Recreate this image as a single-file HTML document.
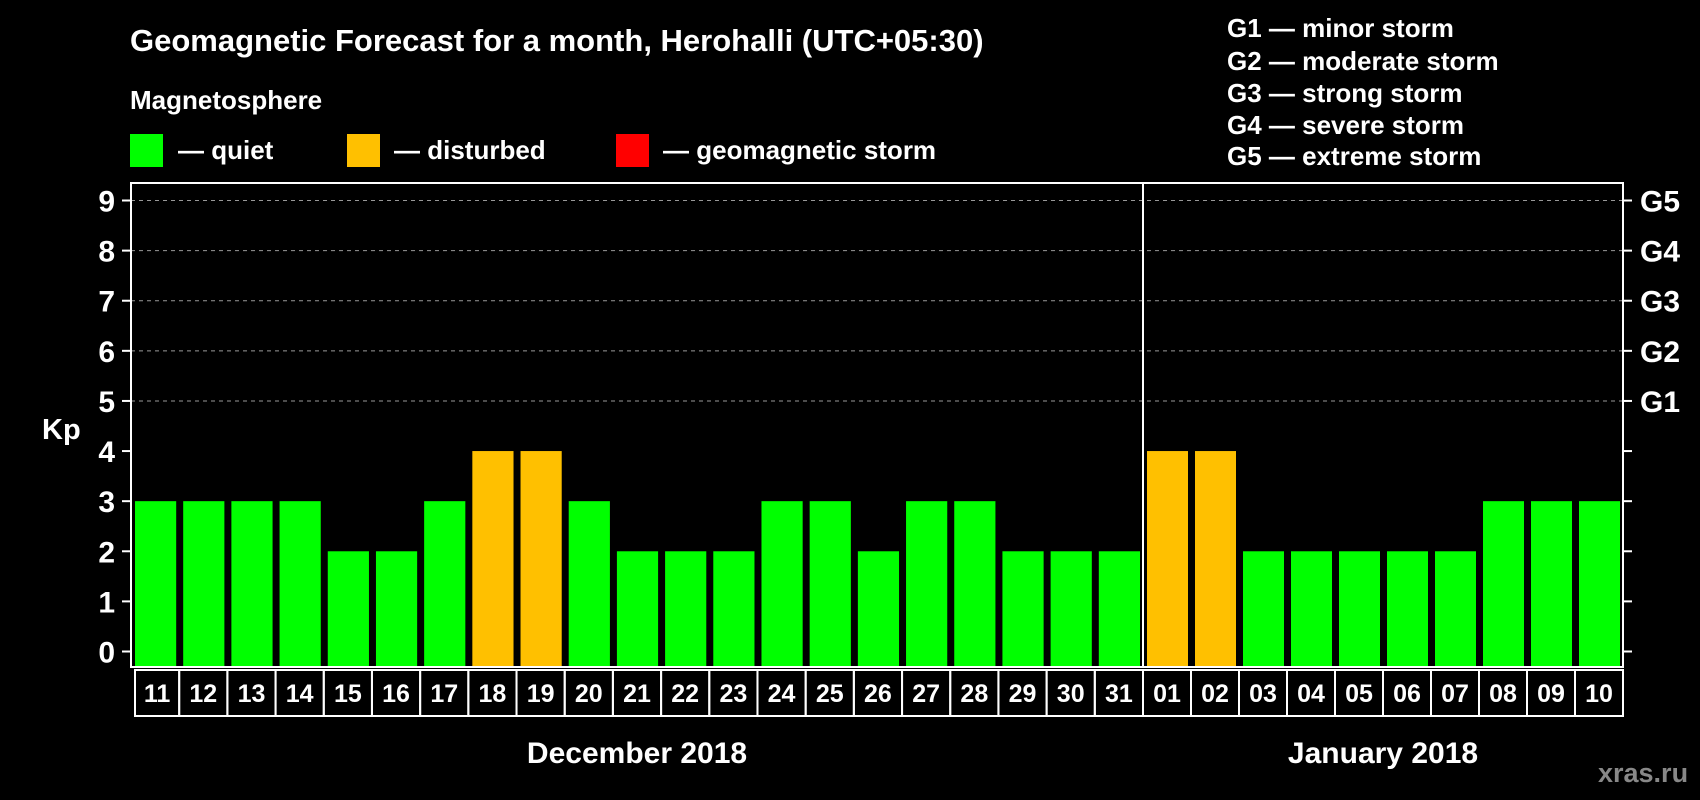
<!DOCTYPE html>
<html><head><meta charset="utf-8"><style>
html,body{margin:0;padding:0;background:#000;}
svg{display:block;font-family:"Liberation Sans",Arial,sans-serif;font-weight:bold;}
</style></head><body>
<svg id="chart" width="1700" height="800" viewBox="0 0 1700 800">
<rect width="1700" height="800" fill="#000"/>
<text x="130" y="51" fill="#fff" font-size="31">Geomagnetic Forecast for a month, Herohalli (UTC+05:30)</text>
<text x="130" y="109" fill="#fff" font-size="26">Magnetosphere</text>
<g><rect x="130" y="134" width="33" height="33" fill="#00ff00"/><text x="178" y="159" fill="#fff" font-size="26">— quiet</text></g>
<g><rect x="347" y="134" width="33" height="33" fill="#ffc000"/><text x="394" y="159" fill="#fff" font-size="26">— disturbed</text></g>
<g><rect x="616" y="134" width="33" height="33" fill="#ff0000"/><text x="663" y="159" fill="#fff" font-size="26">— geomagnetic storm</text></g>
<g fill="#fff" font-size="26">
<text x="1227" y="37">G1 — minor storm</text>
<text x="1227" y="70">G2 — moderate storm</text>
<text x="1227" y="102">G3 — strong storm</text>
<text x="1227" y="134">G4 — severe storm</text>
<text x="1227" y="165">G5 — extreme storm</text>
</g>
<text x="42" y="439" fill="#fff" font-size="29">Kp</text>
<text x="1598" y="782" fill="#888" font-size="27">xras.ru</text>
<g id="plot"></g>
</svg>
<script>
const decDays = ["11","12","13","14","15","16","17","18","19","20","21","22","23","24","25","26","27","28","29","30","31"];
const decKp = [3,3,3,3,2,2,3,4,4,3,2,2,2,3,3,2,3,3,2,2,2];
const janDays = ["01","02","03","04","05","06","07","08","09","10"];
const janKp = [4,4,2,2,2,2,2,3,3,3];
const yTicks = [0,1,2,3,4,5,6,7,8,9];
const gLabels = ["G1","G2","G3","G4","G5"];
const months = ["December 2018","January 2018"];

const NS = "http://www.w3.org/2000/svg";
const g = document.getElementById('plot');
const L = 131, R = 1623, T = 183, B = 667, SEP = 1143;
const y = v => 651.5 - v * (451 / 9);
function el(tag, attrs, parent) {
  const e = document.createElementNS(NS, tag);
  for (const k in attrs) e.setAttribute(k, attrs[k]);
  (parent || g).appendChild(e);
  return e;
}
yTicks.forEach(v => {
  if (v >= 5) {
    const gl = el('line', {x1: L, x2: R, y1: y(v), y2: y(v), stroke: '#999', 'stroke-dasharray': '4,4', 'stroke-width': 1});
    
    
  }
  const t1 = el('line', {x1: L - 9, x2: L, y1: y(v), y2: y(v), stroke: '#fff', 'stroke-width': 2});
  
  
  const t2 = el('line', {x1: R, x2: R + 9, y1: y(v), y2: y(v), stroke: '#fff', 'stroke-width': 2});
  
  
  const tl = el('text', {x: 115, y: y(v) + 11, fill: '#fff', 'font-size': 30, 'text-anchor': 'end'});
  tl.textContent = v;
  
  
  if (v >= 5) {
    const gt = el('text', {x: 1640, y: y(v) + 11, fill: '#fff', 'font-size': 30});
    gt.textContent = gLabels[v - 5];
    
    
  }
});
function drawSection(days, vals, x0, x1, monthLabel, first) {
  const slot = (x1 - x0) / days.length;
  days.forEach((d, i) => {
    const sx = x0 + i * slot;
    const v = vals[i];
    const color = v >= 5 ? '#ff0000' : (v >= 4 ? '#ffc000' : '#00ff00');
    const bar = el('rect', {x: sx + 4, y: y(v), width: slot - 7, height: B - 1 - y(v), fill: color});
    
    
    const bx = (first && i === 0) ? sx + 4 : sx;
    const box = el('rect', {x: bx, y: 670, width: sx + slot - bx, height: 46, fill: 'none', stroke: '#fff', 'stroke-width': 2});
    
    
    const lbl = el('text', {x: sx + slot / 2 + (first && i === 0 ? 2 : 0), y: 702, fill: '#fff', 'font-size': 25, 'text-anchor': 'middle'});
    lbl.textContent = d;
    
    
  });
  const m = el('text', {x: (x0 + x1) / 2, y: 763, fill: '#fff', 'font-size': 30, 'text-anchor': 'middle'});
  m.textContent = monthLabel;
  
  
}
drawSection(decDays, decKp, L, SEP, months[0], true);
drawSection(janDays, janKp, SEP, R, months[1], false);
const frame = el('rect', {x: L, y: T, width: R - L, height: B - T, fill: 'none', stroke: '#fff', 'stroke-width': 2});


const sep = el('line', {x1: SEP, x2: SEP, y1: T, y2: B, stroke: '#fff', 'stroke-width': 2});


</script>
</body></html>
